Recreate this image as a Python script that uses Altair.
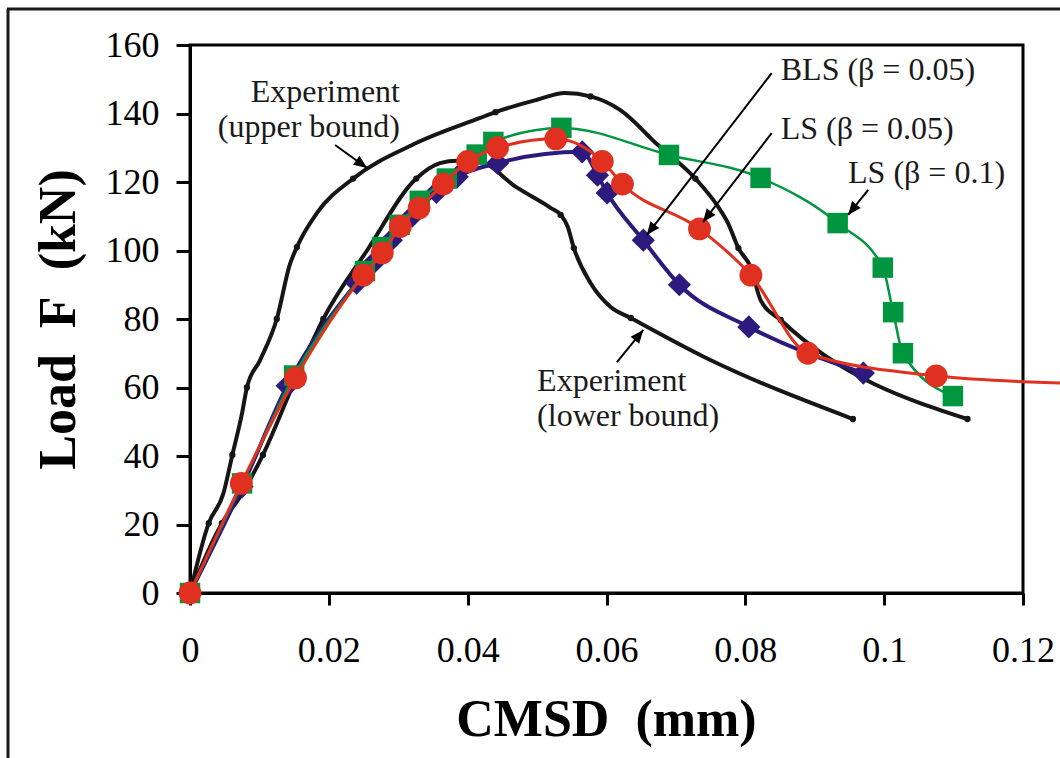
import math
import altair as alt
import pandas as pd

# ---------------- data ----------------
up_x = [0, 0.0027, 0.0048, 0.0061, 0.0075, 0.0082, 0.0101, 0.0125, 0.0144, 0.0154, 0.0183, 0.0235,
        0.0322, 0.0418, 0.044, 0.050, 0.054, 0.0577, 0.062, 0.0673, 0.0728, 0.076, 0.0775, 0.079,
        0.0808, 0.0822, 0.0851, 0.112]
up_y = [0, 20.4, 29, 40.3, 52.5, 60, 68, 80, 96, 101, 111, 121,
        131, 138.7, 140.4, 144, 146, 145, 141, 131, 121, 113, 108, 100.7,
        95, 85.5, 79.7, 50.8]
up_dot = [0, 1, 0, 1, 0, 1, 0, 1, 0, 1, 0, 1,
          0, 0, 1, 0, 0, 1, 0, 0, 1, 0, 0, 1,
          0, 0, 1, 1]

lo_x = [0, 0.0046, 0.0075, 0.0105, 0.0147, 0.0192, 0.0255, 0.0326, 0.036, 0.0385, 0.0418, 0.047,
        0.052, 0.0534, 0.0544, 0.0553, 0.0577, 0.0606, 0.0635, 0.074, 0.0955]
lo_y = [0, 20.4, 29, 40.3, 60, 80, 100, 121, 125.5, 126.2, 125.8, 118.5,
        112.4, 110.4, 107, 100.7, 90.5, 83.5, 80.3, 69, 50.8]
lo_dot = [0, 1, 0, 1, 0, 1, 0, 1, 0, 0, 0, 0,
          0, 1, 0, 1, 0, 0, 1, 0, 1]

bls_x = [0, 0.0075, 0.014, 0.024, 0.0265, 0.029, 0.032, 0.0355, 0.0385, 0.0443, 0.0565, 0.0587,
         0.0601, 0.0653, 0.0705, 0.0805, 0.097]
bls_y = [0, 31, 60.5, 90.5, 96.5, 103, 110, 117, 121.5, 125.5, 128.8, 122,
         116.8, 103, 90, 77.7, 64.2]

ls05_x = [0, 0.0074, 0.0152, 0.025, 0.0277, 0.0303, 0.033, 0.0365, 0.04, 0.0443, 0.0527, 0.0594,
          0.0623, 0.0734, 0.0808, 0.089, 0.1075, 0.1255]
ls05_y = [0, 32, 62.8, 92.8, 99.3, 107, 112.4, 119.4, 126, 130, 132.6, 126,
          119.4, 106.3, 92.8, 70, 63.4, 61.3]
ls05_mark = [1] * 17 + [0]

ls10_x = [0, 0.0075, 0.015, 0.0252, 0.0277, 0.0302, 0.0331, 0.0370, 0.0413, 0.0437, 0.0535, 0.069,
          0.0822, 0.0933, 0.0998, 0.1013, 0.1027, 0.1099]
ls10_y = [0, 32, 63.5, 94, 101, 107.5, 114.5, 121, 128, 131.7, 135.8, 127.9,
          121.2, 108, 95, 82, 70, 57.5]

# annotations: text lines
lab_text = ["Experiment", "(upper bound)", "Experiment", "(lower bound)",
            "BLS (\u03b2 = 0.05)", "LS (\u03b2 = 0.05)", "LS (\u03b2 = 0.1)"]
lab_x = [0.03025, 0.03025, 0.0500, 0.0500, 0.0851, 0.0851, 0.0948]
lab_y = [143.4, 133.2, 59.0, 48.8, 149.8, 132.6, 119.7]
lab_align = ["right", "right", "left", "left", "left", "left", "left"]

# arrows: start -> tip
arr_x0 = [0.0209, 0.0615, 0.0838, 0.0838, 0.0977]
arr_y0 = [130.8, 67.4, 151.8, 134.3, 117.7]
arr_x1 = [0.0255, 0.0653, 0.0658, 0.0739, 0.0948]
arr_y1 = [124.1, 76.8, 104.5, 108.3, 110.4]

x_ticks = [0, 0.02, 0.04, 0.06, 0.08, 0.1, 0.12]
y_ticks = [0, 20, 40, 60, 80, 100, 120, 140, 160]

# ---------------- layout ----------------
W, H = 833, 548
X_DOM = [0, 0.12]
Y_DOM = [0, 160]
SERIF = "Liberation Serif"

BLACK = "#161616"
BLUE = "#2c1a7c"
RED = "#e0301f"
GREEN = "#00963f"

xs = alt.Scale(domain=X_DOM, nice=False, zero=False)
ys = alt.Scale(domain=Y_DOM, nice=False, zero=False)

x_axis = alt.Axis(values=x_ticks, format=".2~f", title="CMSD\u00a0\u00a0(mm)", grid=False,
                  labelFont=SERIF, labelFontSize=36, labelColor="black", labelPadding=28,
                  tickSize=12, tickWidth=3, tickColor="black", domainWidth=3, domainColor="black",
                  titleFont=SERIF, titleFontSize=52, titleFontWeight="bold", titleColor="black",
                  titleX=416, titleY=126, titleAlign="center", titleBaseline="middle",
                  labelFlush=False, labelOverlap=False, labelBound=False)
y_axis = alt.Axis(values=y_ticks, title="Load\u00a0\u00a0F\u00a0\u00a0(kN)", grid=False,
                  labelFont=SERIF, labelFontSize=36, labelColor="black", labelPadding=17,
                  tickSize=14, tickWidth=3, tickColor="black", domainWidth=3, domainColor="black",
                  titleFont=SERIF, titleFontSize=52, titleFontWeight="bold", titleColor="black",
                  titleX=-132, titleY=H / 2, titleAngle=-90, titleAlign="center",
                  titleBaseline="middle", labelFlush=False, labelOverlap=False)

X = alt.X("x:Q", scale=xs, axis=x_axis)
Y = alt.Y("y:Q", scale=ys, axis=y_axis)


def frame(xv, yv, extra=None):
    d = {"x": xv, "y": yv, "order": list(range(len(xv)))}
    if extra:
        d.update(extra)
    return pd.DataFrame(d)


up = frame(up_x, up_y, {"isdot": up_dot})
lo = frame(lo_x, lo_y, {"isdot": lo_dot})
bls = frame(bls_x, bls_y)
ls05 = frame(ls05_x, ls05_y, {"ismark": ls05_mark})
ls10 = frame(ls10_x, ls10_y)


def line(df, color, width):
    return alt.Chart(df).mark_line(color=color, strokeWidth=width, interpolate="monotone").encode(
        x=X, y=Y, order="order:Q")


def pts(df, color, shape, size):
    return alt.Chart(df).mark_point(color=color, filled=True, opacity=1, shape=shape, size=size).encode(
        x=X, y=Y)


layers = [
    line(up, BLACK, 4),
    line(lo, BLACK, 4),
    pts(up[up["isdot"] == 1], BLACK, "circle", 40),
    pts(lo[lo["isdot"] == 1], BLACK, "circle", 40),
    line(bls, BLUE, 4),
    pts(bls, BLUE, "diamond", 540),
    line(ls10, GREEN, 2.5),
    pts(ls10, GREEN, "square", 420),
    line(ls05, RED, 3),
    pts(ls05[ls05["ismark"] == 1], RED, "circle", 520),
]

# arrows
sx = W / (X_DOM[1] - X_DOM[0])
sy = H / (Y_DOM[1] - Y_DOM[0])
angs = []
for a, b, c, d in zip(arr_x0, arr_y0, arr_x1, arr_y1):
    dx = (c - a) * sx
    dy = -(d - b) * sy
    t = math.degrees(math.atan2(dx, -dy))
    if t < 0:
        t += 360
    angs.append(t)
arr = pd.DataFrame({"x": arr_x0, "y": arr_y0, "x1": arr_x1, "y1": arr_y1})
heads = pd.DataFrame({"x": arr_x1, "y": arr_y1, "ang": angs})

layers.append(alt.Chart(arr).mark_rule(color="black", strokeWidth=2).encode(
    x=X, y=Y, x2="x1:Q", y2="y1:Q"))
layers.append(alt.Chart(heads).mark_point(
    shape="M0,0 L-0.42,1 L0.42,1 Z", filled=True, color="black", opacity=1, size=700).encode(
    x=X, y=Y, angle=alt.Angle("ang:Q", scale=None)))

labs = pd.DataFrame({"x": lab_x, "y": lab_y, "text": lab_text, "side": lab_align})
for al in ["left", "right"]:
    layers.append(alt.Chart(labs[labs["side"] == al]).mark_text(
        font=SERIF, fontSize=32, align=al, baseline="alphabetic", color="#1a1a1a").encode(
        x=X, y=Y, text="text:N"))

# outer picture frame (decoration)
one = pd.DataFrame({"k": [0]})
layers.append(alt.Chart(one).mark_rule(color="#1a1a1a", strokeWidth=3).encode(
    x=alt.value(-182), y=alt.value(-36), y2=alt.value(720)))
layers.append(alt.Chart(one).mark_rule(color="#1a1a1a", strokeWidth=3).encode(
    x=alt.value(-183), x2=alt.value(880), y=alt.value(-36)))

chart = alt.layer(*layers).properties(
    width=W, height=H,
    autosize=alt.AutoSizeParams(type="none"),
    padding={"left": 190, "top": 45, "right": 1060 - 190 - W, "bottom": 758 - 45 - H},
    background="white",
).configure_view(stroke="black", strokeWidth=3)

chart.save("out.html", embed_options={"renderer": "svg", "actions": False})
